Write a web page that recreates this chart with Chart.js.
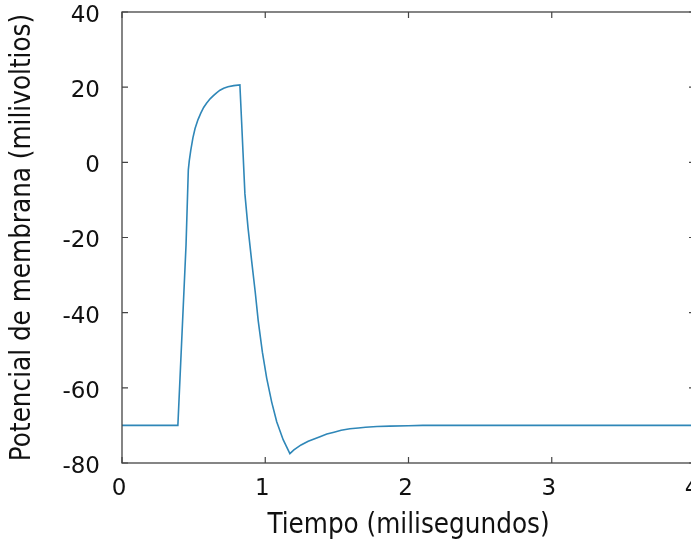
<!DOCTYPE html>
<html>
<head>
<meta charset="utf-8">
<script src="https://cdn.jsdelivr.net/npm/chart.js@4"></script>
<style>
  html, body { margin: 0; padding: 0; background: #fff; overflow: hidden; }
</style>
</head>
<body>
<canvas id="chart" width="700" height="542"></canvas>
<script>
// tiempo en milisegundos, potencial en milivoltios
const tiempo = [0, 0.39, 0.447, 0.463, 0.47, 0.48, 0.495, 0.51, 0.53, 0.55, 0.57, 0.59, 0.615,
  0.64, 0.66, 0.684, 0.71, 0.74, 0.78, 0.823,
  0.835, 0.845, 0.858, 0.88, 0.905, 0.93, 0.951, 0.98, 1.01, 1.045, 1.08, 1.125, 1.172,
  1.2, 1.25, 1.3, 1.382, 1.43, 1.48, 1.53, 1.591, 1.65, 1.7, 1.78, 1.87, 2.0, 2.1, 3, 4];
const potencial = [-70, -70, -22, -2, 0.5, 3.2, 6.5, 9.0, 11.3, 13.1, 14.6, 15.7, 16.9,
  17.8, 18.5, 19.2, 19.7, 20.1, 20.4, 20.6,
  10.8, 2.5, -8.4, -17.5, -26.2, -34.5, -42.2, -50.5, -57.4, -63.8, -69, -73.8, -77.5,
  -76.5, -75.2, -74.2, -73, -72.3, -71.8, -71.3, -70.9, -70.7, -70.5, -70.3, -70.2, -70.1, -70, -70, -70];
const xTicks = [0, 1, 2, 3, 4];
const yTicks = [-80, -60, -40, -20, 0, 20, 40];

const tickFont = { family: 'DejaVu Sans', size: 23 };
const titleFont = { family: 'DejaVu Sans Condensed, DejaVu Sans', size: 27.5 };
const textColor = '#111';
const axisColor = '#444';

// marco y marcas interiores (estilo gnuplot)
const framePlugin = {
  id: 'frame',
  afterDraw(c) {
    const { ctx, chartArea: a, scales } = c;
    ctx.save();
    ctx.strokeStyle = axisColor;
    ctx.lineWidth = 1.3;
    ctx.strokeRect(a.left, a.top, a.right - a.left, a.bottom - a.top);
    ctx.lineWidth = 1.2;
    ctx.beginPath();
    xTicks.forEach(v => {
      const x = scales.x.getPixelForValue(v);
      ctx.moveTo(x, a.bottom); ctx.lineTo(x, a.bottom - 6);
      ctx.moveTo(x, a.top); ctx.lineTo(x, a.top + 6);
    });
    yTicks.forEach(v => {
      const y = scales.y.getPixelForValue(v);
      ctx.moveTo(a.left, y); ctx.lineTo(a.left + 6, y);
      ctx.moveTo(a.right, y); ctx.lineTo(a.right - 6, y);
    });
    ctx.stroke();
    ctx.restore();
  }
};

new Chart(document.getElementById('chart'), {
  type: 'line',
  data: {
    datasets: [{
      data: tiempo.map((t, i) => ({ x: t, y: potencial[i] })),
      borderColor: '#2f87b8',
      borderWidth: 1.6,
      pointRadius: 0,
      tension: 0,
      fill: false
    }]
  },
  options: {
    responsive: false,
    animation: false,
    layout: { padding: { top: 12, right: 5, left: 0, bottom: 0 } },
    plugins: { legend: { display: false }, tooltip: { enabled: false } },
    scales: {
      x: {
        type: 'linear', min: 0, max: 4,
        afterBuildTicks: s => { s.ticks = xTicks.map(v => ({ value: v })); },
        afterFit: s => { s.height = 79; s.paddingLeft = 0; s.paddingRight = 0; },
        grid: { display: false, drawTicks: false },
        border: { display: false },
        ticks: { font: tickFont, color: textColor, padding: 12, maxRotation: 0, labelOffset: -3 },
        title: { display: true, text: 'Tiempo (milisegundos)', font: titleFont, color: textColor, padding: { top: 0, bottom: 0 } }
      },
      y: {
        type: 'linear', min: -80, max: 40,
        afterBuildTicks: s => { s.ticks = yTicks.map(v => ({ value: v })); },
        afterFit: s => { s.width = 122; s.paddingTop = 0; s.paddingBottom = 0; },
        grid: { display: false, drawTicks: false },
        border: { display: false },
        ticks: { font: tickFont, color: textColor, padding: 22, labelOffset: 4 },
        title: { display: true, text: 'Potencial de membrana (milivoltios)', font: titleFont, color: textColor, padding: { top: 6, bottom: 0 } }
      }
    }
  },
  plugins: [framePlugin]
});
</script>
</body>
</html>
